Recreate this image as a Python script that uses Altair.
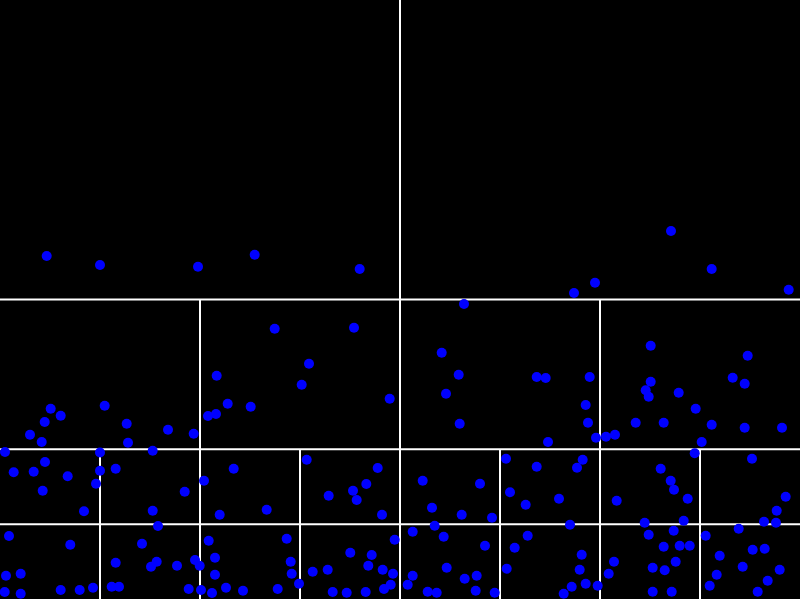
import altair as alt
import pandas as pd

# point coordinates (data units: x 0-800, y 0-599 measured downward)
px = [46.7, 100, 198, 254.7, 359.7,
      574, 595, 671, 711.7, 788.7,
      5, 30, 41.7, 44.7, 50.7, 60.7, 104.7, 100, 126.7, 128, 152.7, 168, 193.7, 208, 216, 216.7, 227.7, 250.7, 274.7, 301.7, 309, 354, 389.7,
      464, 441.7, 458.7, 446, 459.7, 548, 536.7, 545.7, 589.7, 585.7, 588, 596, 606, 615, 635.7, 663.7, 650.7, 650.7, 645.7, 648.7, 678.7, 695.7, 711.7, 701.7, 732.7, 744.7, 747.7, 744.7, 782,
      13.7, 33.7, 45, 42.7, 67.7, 96, 100, 84, 115.7, 152.7, 184.7, 204, 233.7, 219.7, 266.7, 306.7, 328.7, 353, 356.7, 366.3, 377.7, 382,
      694.7, 506, 536.7, 582.7, 577, 422.7, 480, 432, 461.7, 492, 510, 525.7, 559, 616.7, 660.7, 670.7, 674, 687.7, 683.7, 644.7, 752, 785.7, 776.7, 764, 776,
      158, 9, 70.3, 6, 20.7, 4.7, 20.7, 60.7, 79.7, 93, 115.7, 142, 111.7, 119, 151, 156.7, 177, 195, 199.7, 188.7, 201, 212, 208.7, 215, 215, 226, 243, 277.7, 286.7, 290.7, 291.7, 299, 312.7, 327.7, 332.7, 346.7, 365.7, 350.3, 371.7, 368.3, 382.7, 393, 394.7, 384, 390.7,
      434.7, 570, 412.7, 443.7, 485, 527.7, 514.7, 581.7, 579.7, 506.7, 446.7, 412.7, 407.7, 464.7, 476.7, 475.7, 427.7, 436.7, 494.7, 563.7, 571.7, 585.7, 597.7, 608.7, 614, 648.7, 673.7, 663.7, 679.7, 689.7, 675.7, 652.7, 664.7, 652.7, 671.7, 705.7, 738.7, 719.7, 752.7, 764.7, 742.7, 716.7, 709.7, 779.7, 767.7, 757.7]

py = [256, 265, 266.7, 254.7, 269,
      293, 282.7, 231, 269, 289.7,
      452, 434.7, 442, 422, 408.7, 415.7, 405.7, 452.5, 423.7, 442.7, 450.7, 429.7, 433.7, 416, 414, 375.7, 403.7, 406.7, 328.7, 384.7, 363.7, 327.7, 398.7,
      304, 352.7, 374.7, 393.7, 423.7, 442, 377, 378, 377, 405, 422.7, 437.7, 436.7, 434.7, 422.7, 422.7, 345.7, 381.7, 390.3, 396.7, 392.7, 408.7, 424.7, 442, 377.7, 383.7, 355.7, 427.7, 427.7,
      472.3, 471.7, 462, 490.7, 476.3, 483.7, 470.7, 511.3, 468.7, 510.7, 491.7, 480.7, 468.7, 514.7, 509.7, 459.7, 495.7, 490.7, 500, 484, 468, 514.7,
      453.3, 458.7, 466.7, 459.7, 467.7, 480.7, 483.7, 507.7, 514.7, 517.7, 492.3, 504.7, 498.7, 500.7, 468.7, 480.7, 489.7, 498.7, 520.7, 522.7, 458.7, 496.7, 510.7, 521.7, 522.7,
      526, 536, 544.7, 575.7, 573.7, 592, 593.7, 590, 590, 587.7, 562.7, 543.7, 586.7, 586.7, 566.7, 561.7, 565.7, 560, 565.7, 589, 590, 593, 540.7, 557.7, 574.7, 587.7, 590.7, 589, 538.7, 561.7, 573.7, 583.7, 571.7, 569.7, 592, 592.7, 592, 552.7, 555, 565.7, 569.7, 573.7, 539.7, 589, 584.7,
      525.7, 524.7, 531.7, 536.7, 545.7, 535.7, 547.7, 554.7, 569.7, 568.7, 567.7, 575.7, 584.7, 578.7, 575.7, 590.7, 591.7, 592.7, 592.7, 593.7, 586.7, 583.7, 585.7, 573.7, 561.7, 534.7, 530.7, 546.7, 545.7, 545.7, 561.7, 567.7, 570.3, 591.7, 591.7, 535.7, 528.7, 555.7, 549.7, 548.7, 566.7, 574.7, 585.7, 569.7, 580.7, 591.7]

# quadtree partition lines (data units)
seg_x0 = [0, 0, 0, 400, 200, 600, 100, 300, 500, 700]
seg_x1 = [800, 800, 800, 400, 200, 600, 100, 300, 500, 700]
seg_y0 = [299.5, 449.25, 524.125, 0, 299.5, 299.5, 449.25, 449.25, 449.25, 449.25]
seg_y1 = [299.5, 449.25, 524.125, 599, 599, 599, 599, 599, 599, 599]

pts = pd.DataFrame({"x": px, "y": py})
segs = pd.DataFrame({"x": seg_x0, "x2": seg_x1, "y": seg_y0, "y2": seg_y1})

xs = alt.Scale(domain=[0, 800], nice=False, zero=False)
ys = alt.Scale(domain=[0, 599], nice=False, zero=False, reverse=True)

rules = alt.Chart(segs).mark_rule(color="white", strokeWidth=2).encode(
    x=alt.X("x:Q", scale=xs, axis=None),
    x2="x2:Q",
    y=alt.Y("y:Q", scale=ys, axis=None),
    y2="y2:Q",
)

points = alt.Chart(pts).mark_circle(size=100, color="#0000ff", opacity=1).encode(
    x=alt.X("x:Q", scale=xs, axis=None),
    y=alt.Y("y:Q", scale=ys, axis=None),
)

chart = alt.layer(rules, points).properties(
    width=800,
    height=599,
    background="black",
    padding=0,
    autosize=alt.AutoSizeParams(type="none"),
).configure_view(strokeWidth=0)

chart.save("out.html", embed_options={"renderer": "svg", "actions": False})
